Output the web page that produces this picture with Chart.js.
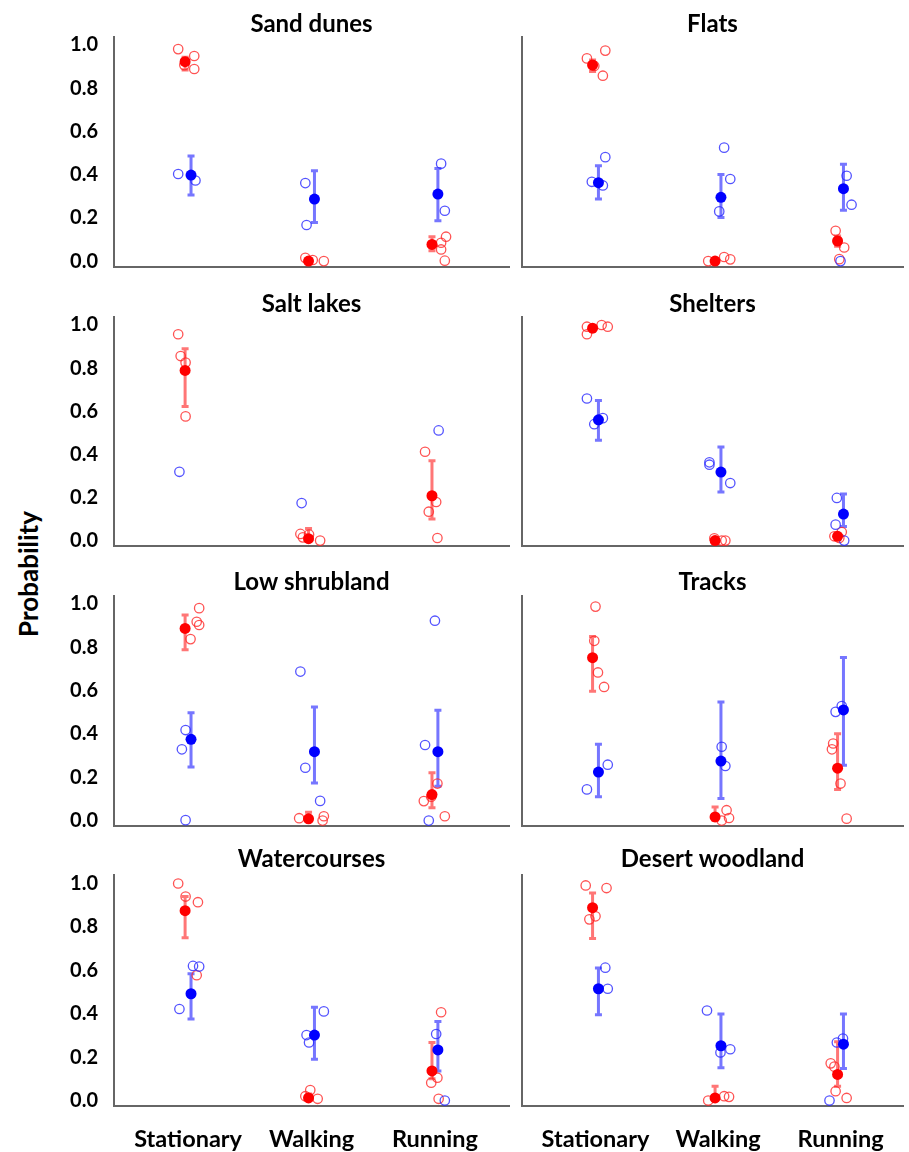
<!DOCTYPE html>
<html>
<head>
<meta charset="utf-8">
<script src="https://cdn.jsdelivr.net/npm/chart.js@4.4.0/dist/chart.umd.min.js"></script>
<style>
  body { margin: 0; background: #fff; }
  #wrap { position: relative; width: 909px; height: 1152px; overflow: hidden; }
  #wrap canvas { position: absolute; }
  #ylab {
    position: absolute; left: -73px; top: 559px; width: 200px; height: 30px;
    line-height: 30px; text-align: center; font: bold 26px Lato, sans-serif; color: #000;
    transform: rotate(-90deg);
  }
</style>
</head>
<body>
<div id="wrap"><div id="ylab">Probability</div></div>
<script>
const habitats = ['Sand dunes', 'Flats', 'Salt lakes', 'Shelters', 'Low shrubland', 'Tracks', 'Watercourses', 'Desert woodland'];
const behaviours = ['Stationary', 'Walking', 'Running'];
const yTicks = [0, 0.2, 0.4, 0.6, 0.8, 1.0];

// mean probability per habitat (Stationary, Walking, Running), null = no mean shown
const redMean = [
  [0.923, 0.0, 0.077], [0.907, 0.0, 0.093], [0.789, 0.009, 0.208], [0.985, 0.0, 0.02],
  [0.887, 0.008, 0.12], [0.752, 0.017, 0.242], [0.873, 0.012, 0.136], [0.887, 0.012, 0.12]
];
const redLo = [
  [0.884, 0.0, 0.048], [0.877, 0.0, 0.069], [0.622, 0.0, 0.10], [0.97, 0.0, 0.01],
  [0.789, 0.0, 0.059], [0.597, 0.0, 0.144], [0.748, 0.0, 0.10], [0.745, 0.0, 0.066]
];
const redHi = [
  [0.943, 0.01, 0.113], [0.93, 0.01, 0.116], [0.89, 0.056, 0.37], [0.995, 0.008, 0.03],
  [0.949, 0.039, 0.221], [0.85, 0.063, 0.401], [0.938, 0.03, 0.267], [0.954, 0.066, 0.27]
];
const blueMean = [
  [0.398, 0.287, 0.310], [0.363, 0.295, 0.335], [null, null, null], [0.560, 0.318, 0.123],
  [0.375, 0.318, 0.318], [0.224, 0.275, 0.511], [0.491, 0.301, 0.233], [0.514, 0.252, 0.259]
];
const blueLo = [
  [0.306, 0.179, 0.187], [0.287, 0.202, 0.235], [null, null, null], [0.465, 0.225, 0.066],
  [0.248, 0.174, 0.159], [0.11, 0.102, 0.256], [0.375, 0.19, 0.136], [0.395, 0.151, 0.147]
];
const blueHi = [
  [0.486, 0.418, 0.429], [0.441, 0.401, 0.448], [null, null, null], [0.650, 0.434, 0.216],
  [0.498, 0.525, 0.509], [0.352, 0.548, 0.753], [0.583, 0.429, 0.363], [0.610, 0.398, 0.398]
];

// individual values: [behaviour position (1-3, jittered), probability]
const redPts = [
  [[0.92,0.981],[1.05,0.949],[1.05,0.889],[0.97,0.907],[1.95,0.015],[2.01,0.005],[2.10,0.0],[3.09,0.113],[3.05,0.085],[3.05,0.054],[3.08,0.002]],
  [[0.93,0.938],[1.08,0.974],[1.06,0.858],[0.99,0.903],[1.92,0.0],[2.05,0.019],[2.10,0.008],[2.96,0.14],[3.03,0.063],[2.99,0.009]],
  [[0.92,0.957],[0.94,0.856],[0.98,0.826],[0.98,0.576],[1.91,0.031],[1.93,0.015],[1.98,0.028],[2.07,0.0],[2.92,0.412],[3.01,0.179],[2.95,0.134],[3.02,0.012]],
  [[0.93,0.992],[0.93,0.957],[1.05,1.0],[1.10,0.992],[1.97,0.011],[2.03,0.0],[2.06,0.0],[3.01,0.04],[2.95,0.02],[2.99,0.012]],
  [[1.09,0.981],[1.07,0.918],[1.09,0.903],[1.02,0.838],[1.90,0.011],[2.10,0.02],[2.09,0.0],[3.02,0.171],[2.97,0.11],[2.91,0.09],[3.08,0.02]],
  [[1.0,0.988],[0.99,0.83],[1.02,0.684],[1.07,0.617],[2.07,0.048],[2.09,0.012],[2.03,0.0],[2.94,0.356],[2.93,0.329],[3.0,0.171],[3.05,0.009]],
  [[0.92,0.998],[0.98,0.938],[1.08,0.912],[1.07,0.576],[1.99,0.048],[1.95,0.02],[2.05,0.008],[3.05,0.406],[3.02,0.105],[2.97,0.082],[3.03,0.008]],
  [[0.92,0.989],[1.09,0.977],[1.0,0.847],[0.95,0.833],[1.92,0.0],[2.05,0.02],[2.09,0.017],[2.92,0.171],[2.95,0.156],[2.96,0.043],[3.05,0.012]]
];
const bluePts = [
  [[0.92,0.403],[1.06,0.373],[1.95,0.361],[1.96,0.167],[3.05,0.451],[3.08,0.233]],
  [[0.97,0.367],[1.08,0.481],[1.06,0.350],[2.05,0.525],[2.10,0.380],[2.01,0.230],[3.05,0.395],[3.09,0.261],[3.0,0.0]],
  [[0.93,0.319],[1.92,0.174],[3.03,0.511]],
  [[0.93,0.659],[0.99,0.540],[1.06,0.568],[1.93,0.363],[1.93,0.352],[2.10,0.267],[2.97,0.198],[2.96,0.074],[3.03,0.0]],
  [[0.98,0.418],[0.95,0.329],[0.98,0.002],[1.91,0.688],[1.95,0.244],[2.07,0.091],[3.0,0.923],[2.92,0.349],[2.95,0.0]],
  [[1.10,0.258],[0.93,0.144],[2.03,0.341],[2.06,0.252],[2.96,0.502],[3.01,0.529]],
  [[1.04,0.619],[1.09,0.616],[0.93,0.421],[2.10,0.41],[1.96,0.301],[1.98,0.267],[3.01,0.306],[3.08,0.0]],
  [[1.08,0.611],[1.10,0.514],[1.91,0.414],[2.02,0.221],[2.10,0.236],[2.97,0.267],[3.02,0.285],[2.91,0.0]]
];

const RED = '#ff0000', BLUE = '#0000ff';
const RED_OPEN = 'rgba(255,40,40,0.8)', BLUE_OPEN = 'rgba(40,40,255,0.8)';
const RED_BAR = 'rgba(255,60,60,0.7)', BLUE_BAR = 'rgba(60,60,255,0.7)';
const meanShift = 0.024;
// per row: title baseline, plot top, plot bottom (px inside the panel)
const titleBase = [32, 32, 30, 27];
const areaTop = [37, 37, 36, 35];
const areaBottom = [266.5, 266, 266, 266];

const errorBars = {
  id: 'errorBars',
  beforeDatasetsDraw(chart) {
    const i = chart.options.plugins.errorBars.panel;
    const xs = chart.scales.x, ys = chart.scales.y, ctx = chart.ctx;
    const sets = [[redMean, redLo, redHi, -meanShift, RED_BAR], [blueMean, blueLo, blueHi, meanShift, BLUE_BAR]];
    ctx.save();
    ctx.lineWidth = 3;
    sets.forEach(([m, lo, hi, shift, col]) => {
      ctx.strokeStyle = col;
      m[i].forEach((v, k) => {
        if (v == null) return;
        const px = xs.getPixelForValue(k + 1 + shift);
        const y1 = ys.getPixelForValue(lo[i][k]), y2 = ys.getPixelForValue(hi[i][k]);
        ctx.beginPath();
        ctx.moveTo(px, y1); ctx.lineTo(px, y2);
        ctx.moveTo(px - 3.5, y1); ctx.lineTo(px + 3.5, y1);
        ctx.moveTo(px - 3.5, y2); ctx.lineTo(px + 3.5, y2);
        ctx.stroke();
      });
    });
    ctx.restore();
  },
  afterDraw(chart) {
    const i = chart.options.plugins.errorBars.panel;
    const a = chart.chartArea, ctx = chart.ctx;
    ctx.save();
    ctx.font = 'bold 24px Lato, sans-serif';
    ctx.fillStyle = '#000';
    ctx.textAlign = 'center';
    ctx.textBaseline = 'alphabetic';
    ctx.fillText(habitats[i], (a.left + a.right) / 2, titleBase[Math.floor(i / 2)]);
    ctx.restore();
  }
};

function meanData(m, i, shift) {
  return m[i].map((v, k) => v == null ? null : { x: k + 1 + shift, y: v }).filter(p => p);
}

function noPad(s) {
  s.paddingTop = 0; s.paddingBottom = 0; s.paddingLeft = 0; s.paddingRight = 0;
}

function makePanel(i) {
  const col = i % 2, row = Math.floor(i / 2);
  const left = col === 0 ? 0 : 515;
  const width = col === 0 ? 515 : 394;
  const height = row === 3 ? 312 : 280;
  const cv = document.createElement('canvas');
  cv.width = width; cv.height = height;
  cv.style.left = left + 'px'; cv.style.top = (row * 280) + 'px';
  cv.style.width = width + 'px'; cv.style.height = height + 'px';
  document.getElementById('wrap').appendChild(cv);

  new Chart(cv, {
    type: 'scatter',
    data: {
      datasets: [
        { data: meanData(blueMean, i, meanShift), pointRadius: 5.5, pointBackgroundColor: BLUE, pointBorderWidth: 0, clip: false },
        { data: meanData(redMean, i, -meanShift), pointRadius: 5.5, pointBackgroundColor: RED, pointBorderWidth: 0, clip: false },
        { data: bluePts[i].map(p => ({ x: p[0], y: p[1] })), pointRadius: 4.7, pointBorderWidth: 1.3,
          pointBorderColor: BLUE_OPEN, pointBackgroundColor: 'rgba(255,255,255,0)', clip: false },
        { data: redPts[i].map(p => ({ x: p[0], y: p[1] })), pointRadius: 4.7, pointBorderWidth: 1.3,
          pointBorderColor: RED_OPEN, pointBackgroundColor: 'rgba(255,255,255,0)', clip: false }
      ]
    },
    options: {
      responsive: false,
      animation: false,
      devicePixelRatio: 1,
      layout: { padding: { top: areaTop[row], right: col === 0 ? 4 : 1, left: 0, bottom: 0 } },
      plugins: {
        legend: { display: false },
        tooltip: { enabled: false },
        errorBars: { panel: i }
      },
      scales: {
        x: {
          type: 'linear',
          min: 0.4,
          max: col === 0 ? 3.6 : 3.51,
          grid: { display: false, drawTicks: false },
          border: { color: '#666', width: 2 },
          afterBuildTicks: s => { s.ticks = behaviours.map((b, k) => ({ value: k + 1 })); },
          afterFit: s => { s.height = height - areaBottom[row]; noPad(s); },
          ticks: {
            display: row === 3,
            autoSkip: false,
            maxRotation: 0,
            padding: 19,
            color: '#000',
            font: { family: 'Lato', weight: 'bold', size: 23.5 },
            callback: v => behaviours[v - 1]
          }
        },
        y: {
          min: -0.025,
          max: 1.037,
          grid: { display: false, drawTicks: false },
          border: { color: '#666', width: 2 },
          afterBuildTicks: s => { s.ticks = yTicks.map(v => ({ value: v })); },
          afterFit: s => { s.width = col === 0 ? 114 : 7; noPad(s); },
          ticks: {
            display: col === 0,
            padding: 16,
            color: '#000',
            font: { family: 'Lato', weight: 'bold', size: 20 },
            callback: v => v.toFixed(1)
          }
        }
      }
    },
    plugins: [errorBars]
  });
}

habitats.forEach((h, i) => makePanel(i));
</script>
</body>
</html>
